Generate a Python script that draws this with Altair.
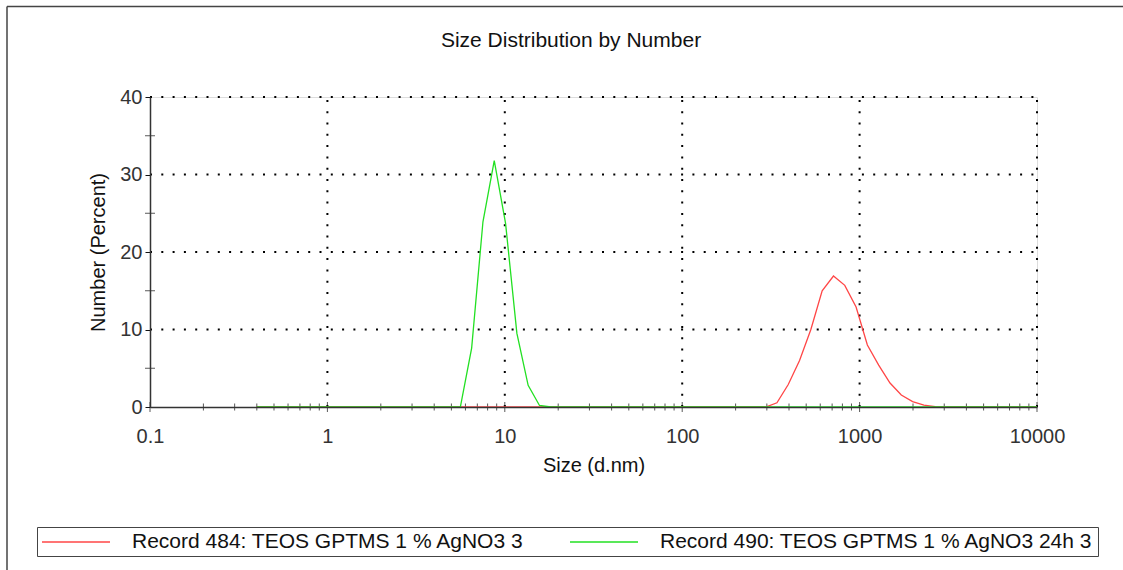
import altair as alt
import pandas as pd

# Size classes (d.nm) of the distribution
sizes = [
    0.4, 0.4632, 0.5365, 0.6213, 0.7195, 0.8332, 0.9649, 1.117, 1.294, 1.499,
    1.736, 2.01, 2.328, 2.696, 3.122, 3.615, 4.187, 4.849, 5.615, 6.503,
    7.531, 8.721, 10.1, 11.7, 13.54, 15.69, 18.17, 21.04, 24.36, 28.21,
    32.67, 37.84, 43.82, 50.75, 58.77, 68.06, 78.82, 91.28, 105.7, 122.4,
    141.8, 164.2, 190.1, 220.2, 255.0, 295.3, 342.0, 396.1, 458.7, 531.2,
    615.1, 712.4, 825.0, 955.4, 1106, 1281, 1484, 1718, 1990, 2305,
    2669, 3091, 3580, 4145, 4801, 5560, 6439, 7456, 8635, 10000,
]

# Number (%) per size class
record_484 = [
    0, 0, 0, 0, 0, 0, 0, 0, 0, 0,
    0, 0, 0, 0, 0, 0, 0, 0, 0, 0,
    0, 0, 0, 0, 0, 0, 0, 0, 0, 0,
    0, 0, 0, 0, 0, 0, 0, 0, 0, 0,
    0, 0, 0, 0, 0, 0, 0.55, 2.9, 6.0, 10.0,
    15.0, 16.9, 15.7, 12.9, 8.0, 5.4, 3.1, 1.55, 0.7, 0.25,
    0.05, 0, 0, 0, 0, 0, 0, 0, 0, 0,
]
record_490 = [
    0, 0, 0, 0, 0, 0, 0, 0, 0, 0,
    0, 0, 0, 0, 0, 0, 0, 0, 0, 7.6,
    23.9, 31.8, 23.7, 9.5, 2.8, 0.2, 0, 0, 0, 0,
    0, 0, 0, 0, 0, 0, 0, 0, 0, 0,
    0, 0, 0, 0, 0, 0, 0, 0, 0, 0,
    0, 0, 0, 0, 0, 0, 0, 0, 0, 0,
    0, 0, 0, 0, 0, 0, 0, 0, 0, 0,
]

series_names = [
    "Record 484: TEOS GPTMS 1 % AgNO3 3",
    "Record 490: TEOS GPTMS 1 % AgNO3 24h 3",
]
series_colors = ["#ff4646", "#22e022"]

x_labels = [0.1, 1, 10, 100, 1000, 10000]
y_labels = [0, 10, 20, 30, 40]
y_minor = [5, 15, 25, 35]
x_minor = [m * 10.0 ** e for e in range(-1, 4) for m in range(2, 10)]
grid_x = [1, 10, 100, 1000, 10000]
grid_y = [10, 20, 30, 40]

W, H = 887, 310
FONT = "Liberation Sans"
INK = "#333333"

curves = pd.DataFrame({
    "size": sizes + sizes,
    "number": record_484 + record_490,
    "record": [series_names[0]] * len(sizes) + [series_names[1]] * len(sizes),
})

xs = alt.Scale(type="log", domain=[0.1, 10000], nice=False)
ys = alt.Scale(domain=[0, 40], nice=False, zero=True)

# one axis definition shared by every layer so they merge into one
x_axis = alt.Axis(
    values=x_labels,
    labelExpr="datum.value < 1 ? format(datum.value, '.1f') : format(datum.value, 'd')",
    ticks=False, tickSize=0, grid=False,
    domainColor=INK, domainWidth=1.5,
    labelFont=FONT, labelFontSize=20, labelColor=INK,
    labelPadding=35, labelBaseline="alphabetic", labelFlush=False,
    title="Size (d.nm)", titleFont=FONT, titleFontSize=20,
    titleFontWeight="normal", titleColor="#111",
    titleX=443.5, titleY=64, titleBaseline="alphabetic", titleAlign="center",
    zindex=1,
)
y_axis = alt.Axis(
    values=y_labels,
    ticks=True, tickSize=5, tickColor="#111", grid=False,
    domainColor=INK, domainWidth=1.5,
    labelFont=FONT, labelFontSize=20, labelColor=INK,
    labelPadding=3, labelBaseline="middle",
    title="Number (Percent)", titleFont=FONT, titleFontSize=20,
    titleFontWeight="normal", titleColor="#111",
    titleAngle=270, titleX=-51.5, titleY=155,
    titleBaseline="middle", titleAlign="center",
    zindex=1,
)


def X(field):
    return alt.X(field, scale=xs, axis=x_axis)


def Y(field):
    return alt.Y(field, scale=ys, axis=y_axis)


# dotted grid
vgrid = alt.Chart(pd.DataFrame({"g": grid_x, "lo": 0, "hi": 40})).mark_rule(
    color="black", strokeWidth=2, strokeDash=[2, 9.3]
).encode(x=X("g:Q"), y=Y("lo:Q"), y2="hi:Q")
hgrid = alt.Chart(pd.DataFrame({"g": grid_y, "lo": 0.1, "hi": 10000})).mark_rule(
    color="black", strokeWidth=2, strokeDash=[2, 9.3]
).encode(y=Y("g:Q"), x=X("lo:Q"), x2="hi:Q")

# ticks crossing the axis lines
xtick_minor = alt.Chart(pd.DataFrame({"t": x_minor, "z": 0})).mark_tick(
    orient="vertical", size=7, thickness=1, color="#111"
).encode(x=X("t:Q"), y=Y("z:Q"))
xtick_major = alt.Chart(pd.DataFrame({"t": x_labels, "z": 0})).mark_tick(
    orient="vertical", size=10, thickness=1, color="#111"
).encode(x=X("t:Q"), y=Y("z:Q"))
ytick_minor = alt.Chart(pd.DataFrame({"v": y_minor, "x0": 0.1})).mark_tick(
    orient="horizontal", size=10, thickness=1, color="#111"
).encode(x=X("x0:Q"), y=Y("v:Q"))

lines = alt.Chart(curves).mark_line(strokeWidth=1.3).encode(
    x=X("size:Q"),
    y=Y("number:Q"),
    color=alt.Color(
        "record:N",
        scale=alt.Scale(domain=series_names, range=series_colors),
        legend=alt.Legend(
            title=None, orient="none", legendX=-113, legendY=430,
            direction="horizontal", columns=2,
            # short symbol box, long stroke drawn by the path itself
            symbolType="M-3.4,0H3.4", symbolSize=400, symbolStrokeWidth=1.3,
            symbolOffset=24,
            labelFont=FONT, labelFontSize=21, labelColor="#111", labelLimit=800,
            labelOffset=45, columnPadding=42,
            padding=4, strokeColor="#444", fillColor="white",
        ),
    ),
)

# page frame
frame_df = pd.DataFrame({"k": [0]})
frame_left = alt.Chart(frame_df).mark_rule(color="#444", strokeWidth=1.5).encode(
    x=alt.value(-143), y=alt.value(-90.5), y2=alt.value(473)
)
frame_top = alt.Chart(frame_df).mark_rule(color="#444", strokeWidth=1.5).encode(
    x=alt.value(-143), x2=alt.value(990), y=alt.value(-90.5)
)

chart = alt.layer(
    vgrid, hgrid, xtick_minor, xtick_major, ytick_minor, lines, frame_left, frame_top
).properties(
    width=W,
    height=H,
    title=alt.TitleParams(
        "Size Distribution by Number",
        font=FONT, fontSize=21, fontWeight="normal", color="#111",
        anchor="middle", dx=-22.5, dy=62, baseline="alphabetic", offset=0,
    ),
    autosize=alt.AutoSizeParams(type="none"),
    padding={"left": 150, "top": 97, "right": 86, "bottom": 163},
).configure_view(stroke=None).configure(background="white")

chart.save("out.html", embed_options={"renderer": "svg", "actions": False})
